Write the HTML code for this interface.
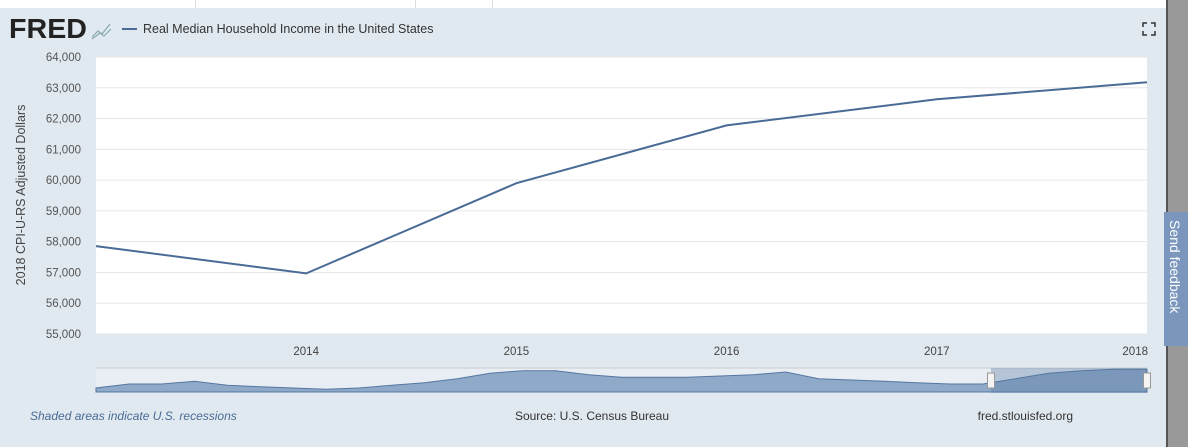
<!DOCTYPE html>
<html><head><meta charset="utf-8"><style>
body{margin:0;width:1188px;height:447px;overflow:hidden;background:#999;font-family:"Liberation Sans",sans-serif;}
#wrap{position:absolute;left:0;top:0;width:1166px;height:447px;background:#e1e9f0;border-right:2px solid #555;}
#topbar{position:absolute;left:0;top:0;width:1166px;height:8px;background:#fff;}
.vl{position:absolute;top:0;height:8px;width:1px;background:#ddd;}
#fb{position:absolute;left:1164px;top:212px;width:24px;height:134px;background:#7a96bd;color:#fff;font-size:14px;}
#fb span{position:absolute;left:3px;top:8px;writing-mode:vertical-rl;}
</style></head><body>
<div id="wrap">
<div id="topbar"><div class="vl" style="left:195px"></div><div class="vl" style="left:415px"></div><div class="vl" style="left:492px"></div></div>
<svg id="c" width="1166" height="447" style="position:absolute;left:0;top:0">
<text x="9" y="38" font-size="28" font-weight="bold" fill="#222" textLength="78" lengthAdjust="spacingAndGlyphs">FRED</text>
<path d="M92 37 L98 31 L102 34 L110 24 M92 39 L100 33 L104 36 L111 29" stroke="#8aa" stroke-width="1.2" fill="none"/>
<line x1="122" y1="29" x2="137" y2="29" stroke="#4a6b96" stroke-width="2"/>
<text x="143" y="33" font-size="12.5" fill="#333">Real Median Household Income in the United States</text>
<g stroke="#333" stroke-width="1.5" fill="none"><path d="M1143 27v-4h4M1151 23h4v4M1155 31v4h-4M1147 35h-4v-4"/></g>
<rect x="96" y="57" width="1051" height="277" fill="#fff"/>
<g id="grid"></g><g id="yt"></g><g id="xt"></g>
<text transform="translate(25,195) rotate(-90)" text-anchor="middle" font-size="12.5" fill="#444">2018 CPI-U-RS Adjusted Dollars</text>
<path id="line" fill="none" stroke="#4a6b96" stroke-width="2"/>
<g id="nav"></g>
<text x="30" y="420" font-size="12" font-style="italic" fill="#4a6b96">Shaded areas indicate U.S. recessions</text>
<text x="592" y="420" font-size="12" text-anchor="middle" fill="#333">Source: U.S. Census Bureau</text>
<text x="1073" y="420" font-size="12" text-anchor="end" fill="#333">fred.stlouisfed.org</text>
</svg></div>
<div id="fb"><span>Send feedback</span></div>
<script>
const years=[2013,2014,2015,2016,2017,2018];
const values=[57856,56969,59901,61779,62626,63179];
const yTicks=[55000,56000,57000,58000,59000,60000,61000,62000,63000,64000];
const xTicks=[2014,2015,2016,2017,2018];
const navValues=[55,58,58,60,57,56,55,54,55,57,59,62,66,68,68,65,63,63,63,64,65,67,62,61,60,59,58,58,62,66,68,69,69];
const NS="http://www.w3.org/2000/svg";
const X0=96,X1=1147,Y0=334,Y1=57;
const x=v=>X0+(v-2013)/(2018-2013)*(X1-X0);
const y=v=>Y0-(v-55000)/(64000-55000)*(Y0-Y1);
function mk(t,a,p){const e=document.createElementNS(NS,t);for(const k in a)e.setAttribute(k,a[k]);p.appendChild(e);return e;}
const g=document.getElementById('grid'),yt=document.getElementById('yt'),xt=document.getElementById('xt');
yTicks.forEach(v=>{const l=mk('line',{x1:X0,x2:X1,y1:y(v),y2:y(v),stroke:'#e6e6e6'},g);


const t=mk('text',{x:81,y:y(v)+4,'text-anchor':'end','font-size':11.5,fill:'#555'},yt);t.textContent=v.toLocaleString('en-US');

});
xTicks.forEach((v,i)=>{const last=i===xTicks.length-1;const t=mk('text',{x:last?x(v)+1:x(v),y:355,'text-anchor':last?'end':'middle','font-size':11.5,fill:'#444'},xt);t.textContent=v;

});
document.getElementById('line').setAttribute('d',values.map((v,i)=>(i?'L':'M')+x(years[i]).toFixed(1)+' '+y(v).toFixed(1)).join(''));
const nav=document.getElementById('nav');
mk('rect',{x:96,y:368,width:1051,height:25,fill:'#e8eef4'},nav);
mk('line',{x1:96,x2:1147,y1:368,y2:368,stroke:'#ccc'},nav);
const nx=i=>96+i/(navValues.length-1)*1051, ny=v=>392-(v-52)/(70-52)*24;
let d='M96 392'+navValues.map((v,i)=>'L'+nx(i).toFixed(1)+' '+ny(v).toFixed(1)).join('')+'L1147 392Z';
const a=mk('path',{d:d,fill:'#8fa9c9',stroke:'#5577a0'},nav);


const s=mk('rect',{x:991,y:368,width:156,height:25,fill:'#5577a0','fill-opacity':0.35},nav);


[991,1147].forEach(h=>{const r=mk('rect',{x:h-3.5,y:373,width:7,height:15,fill:'#f4f4f4',stroke:'#999'},nav);

});
</script>
</body></html>
